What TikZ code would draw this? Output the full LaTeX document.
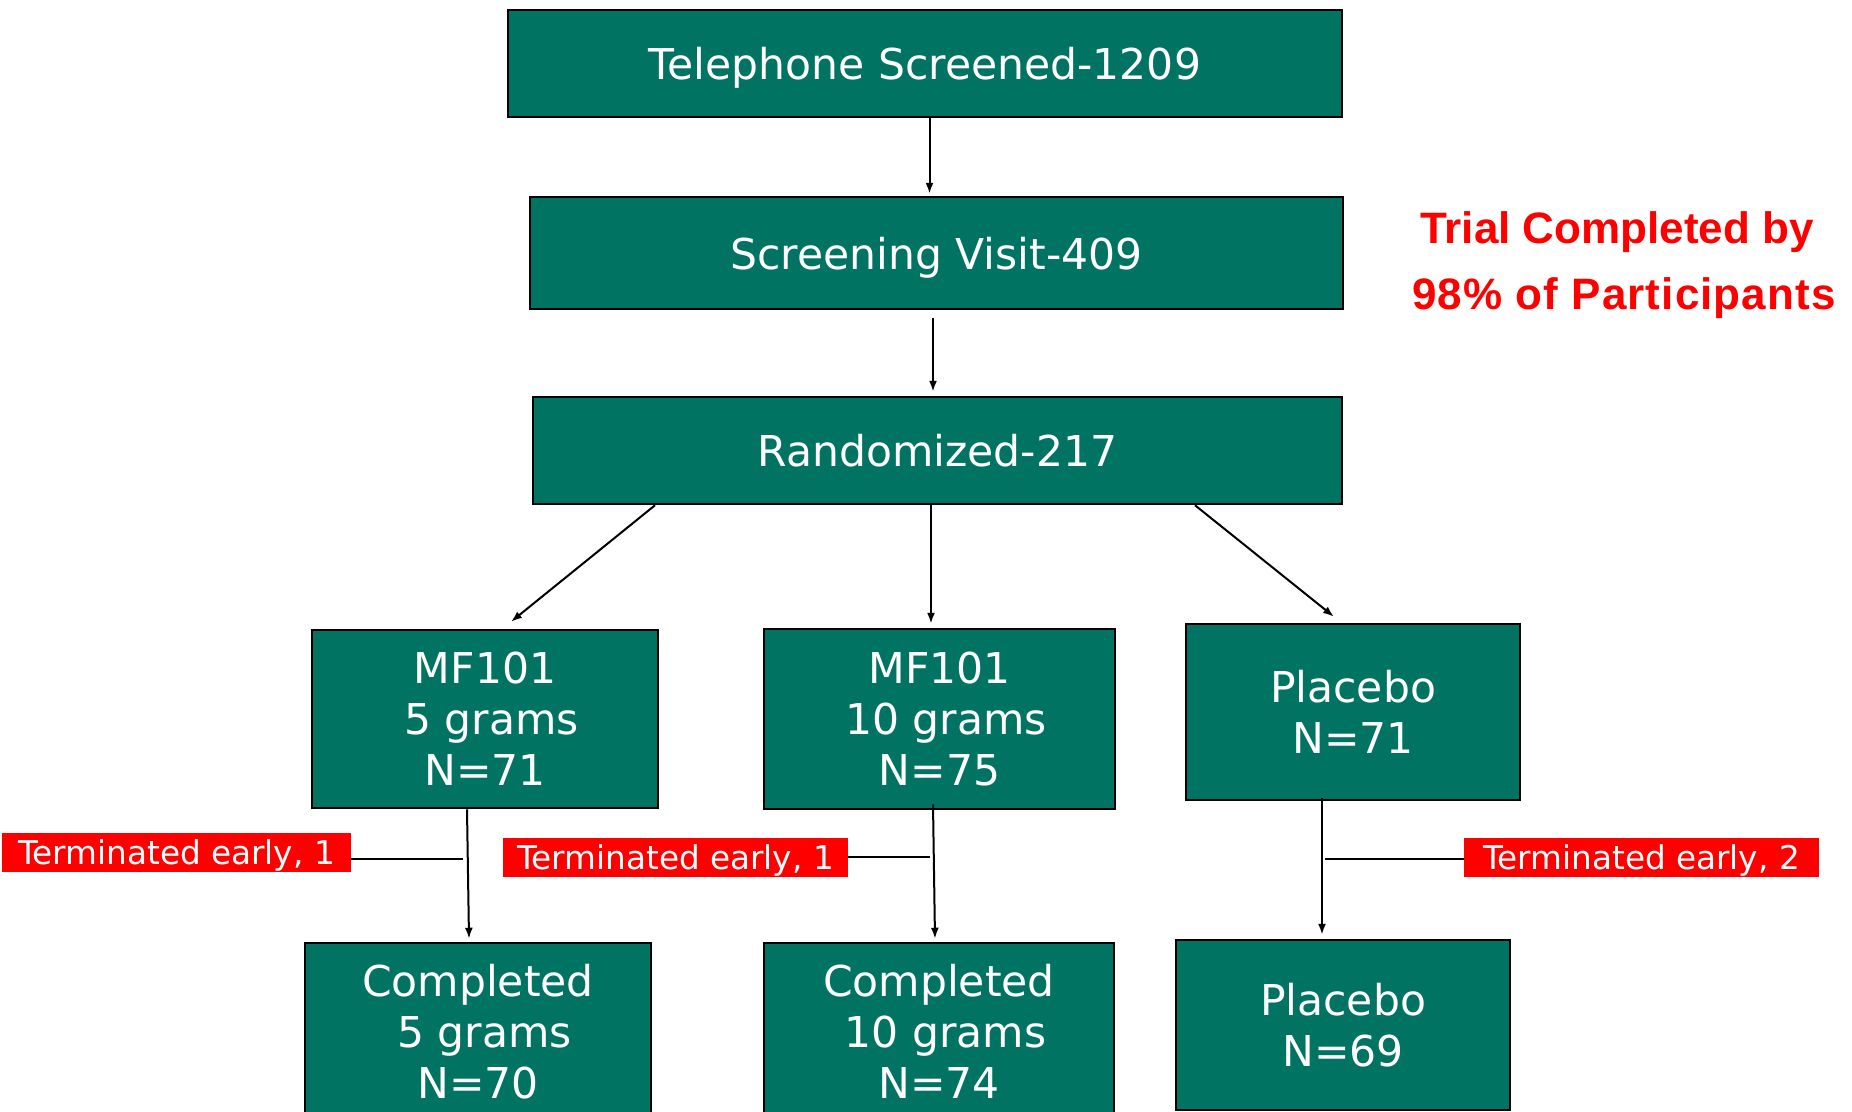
\documentclass[tikz,border=0pt]{standalone}
\usepackage{fontspec}
\setmainfont{DejaVu Sans}
\newfontfamily\notefont{Liberation Sans}
\usetikzlibrary{arrows.meta}
\definecolor{tealbox}{RGB}{0,115,98}
\definecolor{redlab}{RGB}{255,0,0}
\begin{document}
\begin{tikzpicture}[x=1pt,y=-1pt,
  gbox/.style={draw=black, line width=2.5pt, fill=tealbox, text=white,
    font=\fontsize{42.5}{51}\selectfont, align=center, inner sep=0pt},
  tlabel/.style={fill=redlab, text=white, font=\fontsize{32.7}{38}\selectfont,
    inner sep=0pt, minimum height=39pt, text depth=0pt},
  arr/.style={line width=2pt, -{Latex[length=11pt,width=8pt]}},
  conn/.style={line width=2pt},
  note/.style={text=redlab, font=\notefont\bfseries\fontsize{44}{50}\selectfont, anchor=base, inner sep=0pt}]
\useasboundingbox (0,0) rectangle (1852,1111);
\fill[white] (0,0) rectangle (1852,1111);
\clip (0,0) rectangle (1852,1111);

% boxes
\node[gbox, minimum width=834pt, minimum height=107pt, text depth=0pt] (b1) at (925,63.5) {Telephone Screened-1209};
\node[gbox, minimum width=813pt, minimum height=112pt, text depth=0pt] (b2) at (936.5,253) {Screening Visit-409};
\node[gbox, minimum width=809pt, minimum height=107pt] (b3) at (937.5,450.5) {Randomized-217};
\node[gbox, minimum width=346pt, minimum height=178pt] (b4) at (485,719) {MF101\\\hspace*{13pt}5 grams\\N=71};
\node[gbox, minimum width=351pt, minimum height=180pt] (b5) at (939.5,719) {MF101\\\hspace*{13pt}10 grams\\N=75};
\node[gbox, minimum width=334pt, minimum height=176pt] (b6) at (1353,712) {Placebo\\N=71};
\node[gbox, minimum width=346pt, minimum height=177pt] (b7) at (478,1031.5) {Completed\\\hspace*{13pt}5 grams\\N=70};
\node[gbox, minimum width=350pt, minimum height=177pt] (b8) at (939,1031.5) {Completed\\\hspace*{13pt}10 grams\\N=74};
\node[gbox, minimum width=334pt, minimum height=170pt] (b9) at (1343,1025) {Placebo\\N=69};

% red note
\node[note] (n1) at (1617,243) {Trial Completed by};
\node[note] (n2) at (1624,309) {\addfontfeature{LetterSpace=2.5}98\% of Participants};

% terminated labels
\node[tlabel, minimum width=349pt] (l1) at (176.5,852.5) {Terminated early, 1};
\node[tlabel, minimum width=345pt] (l2) at (675.5,857.5) {Terminated early, 1};
\node[tlabel, minimum width=355pt] (l3) at (1641.5,857.5) {Terminated early, 2};

% arrows
\draw[arr] ([xshift=4.5pt]b1.south) -- ([xshift=-7pt,yshift=2pt]b2.north);
\draw[arr] ([xshift=-3.5pt,yshift=-8pt]b2.south) -- ([xshift=-4.5pt,yshift=4pt]b3.north);
\draw[arr] ([xshift=-282.5pt]b3.south) -- ([xshift=26pt,yshift=7pt]b4.north);
\draw[arr] ([xshift=-6.5pt]b3.south) -- ([xshift=-8.5pt,yshift=4pt]b5.north);
\draw[arr] ([xshift=257.5pt]b3.south) -- ([xshift=-19pt,yshift=6pt]b6.north);
\draw[arr] ([xshift=-18pt]b4.south) -- ([xshift=-9pt,yshift=3pt]b7.north);
\draw[arr] ([xshift=-6.5pt,yshift=6pt]b5.south) -- ([xshift=-4pt,yshift=3pt]b8.north);
\draw[arr] ([xshift=-31pt,yshift=3pt]b6.south) -- ([xshift=-21pt,yshift=4pt]b9.north);

% branch lines
\coordinate (j1) at (463,859);
\coordinate (j2) at (930,857);
\coordinate (j3) at (1325,859);
\draw[conn] (l1.east |- j1) -- (j1);
\draw[conn] (l2.east |- j2) -- (j2);
\draw[conn] (l3.west |- j3) -- (j3);
\end{tikzpicture}
\end{document}
